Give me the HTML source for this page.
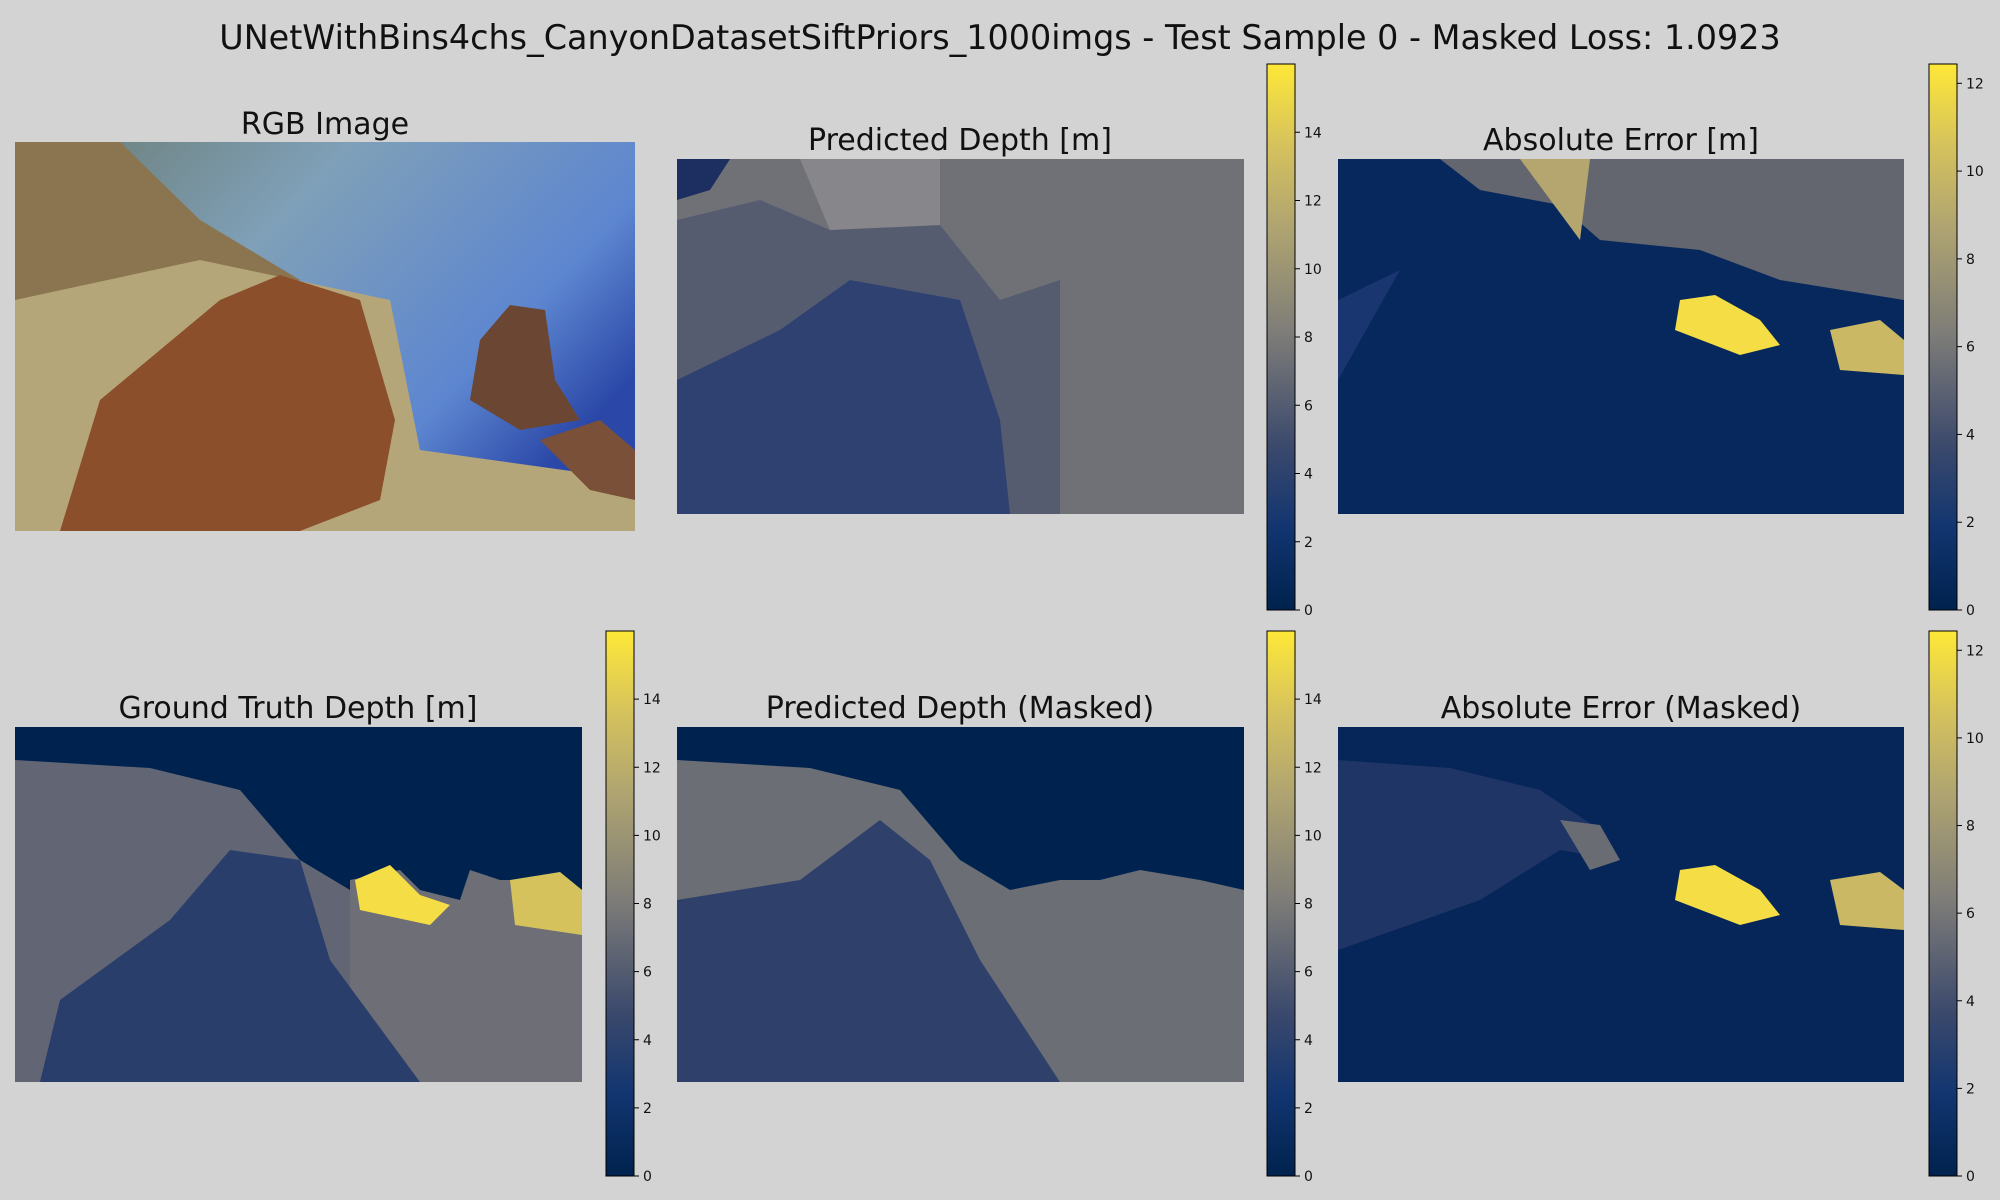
<!DOCTYPE html>
<html><head><meta charset="utf-8">
<style>
body{margin:0;background:#d3d3d3;width:2000px;height:1200px;overflow:hidden;font-family:"DejaVu Sans","Liberation Sans",sans-serif}
svg{display:block}
</style></head><body>
<svg id="fig" width="2000" height="1200" xmlns="http://www.w3.org/2000/svg" font-family="DejaVu Sans, Liberation Sans, sans-serif">
<defs>
<linearGradient id="civ" x1="0" y1="1" x2="0" y2="0">
<stop offset="0" stop-color="#00224e"/><stop offset="0.15" stop-color="#123570"/><stop offset="0.3" stop-color="#3b496c"/>
<stop offset="0.5" stop-color="#7c7b78"/><stop offset="0.7" stop-color="#afa471"/><stop offset="0.85" stop-color="#d5c25d"/><stop offset="1" stop-color="#fee838"/>
</linearGradient>
<linearGradient id="water" x1="0" y1="0" x2="1" y2="0.6">
<stop offset="0" stop-color="#6a7a70"/><stop offset="0.4" stop-color="#7fa0b8"/><stop offset="0.8" stop-color="#5d86d0"/><stop offset="1" stop-color="#2b48a8"/>
</linearGradient>
</defs>
<text x="1000" y="49" text-anchor="middle" font-size="33.4" fill="#111">UNetWithBins4chs_CanyonDatasetSiftPriors_1000imgs - Test Sample 0 - Masked Loss: 1.0923</text>

<g>
<text x="325" y="134" text-anchor="middle" font-size="30" fill="#111">RGB Image</text>
<rect x="15" y="142" width="620" height="389" fill="url(#water)"/>
<polygon points="15,142 120,142 200,220 300,280 260,320 15,430" fill="#8a7550"/>
<polygon points="15,300 200,260 390,300 420,450 635,480 635,531 15,531" fill="#b5a67a"/>
<polygon points="100,400 220,300 280,275 360,300 395,420 380,500 300,531 60,531" fill="#8c4f2c"/>
<polygon points="480,340 510,305 545,310 555,380 580,420 520,430 470,400" fill="#6b4632"/>
<polygon points="540,440 600,420 635,450 635,500 590,490" fill="#7a5038"/>
</g>

<g>
<text x="960" y="150" text-anchor="middle" font-size="30" fill="#111">Predicted Depth [m]</text>
<rect x="677" y="159" width="567" height="355" fill="#6f7176"/>
<polygon points="677,220 760,200 830,230 940,225 1000,300 1060,280 1060,514 677,514" fill="#565c70"/>
<polygon points="677,380 780,330 850,280 960,300 1000,420 1010,514 677,514" fill="#2f4170"/>
<polygon points="677,159 730,159 710,190 677,200" fill="#1c2f60"/>
<polygon points="800,159 940,159 940,225 830,230" fill="#87868a"/>
</g>

<g>
<text x="1621" y="150" text-anchor="middle" font-size="30" fill="#111">Absolute Error [m]</text>
<rect x="1338" y="159" width="566" height="355" fill="#07285c"/>
<polygon points="1440,159 1904,159 1904,300 1780,280 1700,250 1600,240 1560,205 1480,190" fill="#63666f"/>
<polygon points="1520,159 1590,159 1580,240" fill="#b4a66e"/>
<polygon points="1680,300 1715,295 1760,320 1780,345 1740,355 1675,330" fill="#f5dd45"/>
<polygon points="1830,330 1880,320 1904,340 1904,375 1840,370" fill="#cbb865"/>
<polygon points="1338,300 1400,270 1338,380" fill="#1a3670"/>
</g>

<g>
<text x="298" y="718" text-anchor="middle" font-size="30" fill="#111">Ground Truth Depth [m]</text>
<rect x="15" y="727" width="567" height="355" fill="#00224e"/>
<polygon points="15,760 150,768 240,790 300,860 350,890 360,1082 15,1082" fill="#626574"/>
<polygon points="350,880 400,870 420,890 460,900 470,870 500,880 540,880 582,890 582,1082 350,1082" fill="#6e6f76"/>
<polygon points="355,880 390,865 420,895 450,905 430,925 360,910" fill="#f5dd45"/>
<polygon points="510,880 560,872 582,890 582,935 515,925" fill="#d5c25d"/>
<polygon points="60,1000 170,920 230,850 300,860 330,960 420,1082 40,1082" fill="#2a3e6c"/>
</g>

<g>
<text x="960" y="718" text-anchor="middle" font-size="30" fill="#111">Predicted Depth (Masked)</text>
<rect x="677" y="727" width="567" height="355" fill="#00224e"/>
<polygon points="677,760 810,768 900,790 960,860 1010,890 1060,880 1100,880 1140,870 1200,880 1244,890 1244,1082 677,1082" fill="#6c6e75"/>
<polygon points="677,900 800,880 880,820 930,860 980,960 1060,1082 677,1082" fill="#2f416b"/>
</g>

<g>
<text x="1621" y="718" text-anchor="middle" font-size="30" fill="#111">Absolute Error (Masked)</text>
<rect x="1338" y="727" width="566" height="355" fill="#06265a"/>
<polygon points="1338,760 1450,768 1540,790 1600,830 1620,860 1560,850 1480,900 1338,950" fill="#1e3566"/>
<polygon points="1560,820 1600,825 1620,860 1590,870" fill="#6a6c74"/>
<polygon points="1680,870 1715,865 1760,890 1780,915 1740,925 1675,900" fill="#f5dd45"/>
<polygon points="1830,880 1880,872 1904,890 1904,930 1840,925" fill="#cbb865"/>
</g>
<g id="cbars"></g>
</svg>
<script>
const depthTicks=[0,2,4,6,8,10,12,14];
const depthMax=16.0;
const errTicks=[0,2,4,6,8,10,12];
const errMax=12.44;
const cbarDefs=[
 {name:'pred-depth-colorbar',x:1267,y0:64,y1:610,ticks:depthTicks,max:depthMax},
 {name:'abs-error-colorbar',x:1929,y0:64,y1:610,ticks:errTicks,max:errMax},
 {name:'ground-truth-colorbar',x:606,y0:631,y1:1176,ticks:depthTicks,max:depthMax},
 {name:'pred-masked-colorbar',x:1267,y0:631,y1:1176,ticks:depthTicks,max:depthMax},
 {name:'abs-error-masked-colorbar',x:1929,y0:631,y1:1176,ticks:errTicks,max:errMax}
];
const NS='http://www.w3.org/2000/svg';
const g=document.getElementById('cbars');
cbarDefs.forEach(c=>{
  const grp=document.createElementNS(NS,'g');
  
  
  const r=document.createElementNS(NS,'rect');
  r.setAttribute('x',c.x);r.setAttribute('y',c.y0);r.setAttribute('width',28);r.setAttribute('height',c.y1-c.y0);
  r.setAttribute('fill','url(#civ)');r.setAttribute('stroke','#000');r.setAttribute('stroke-width','1');
  
  
  grp.appendChild(r);
  const yScale=v=>c.y1-(v/c.max)*(c.y1-c.y0);
  c.ticks.forEach(t=>{
    const y=yScale(t);
    const l=document.createElementNS(NS,'line');
    l.setAttribute('x1',c.x+28);l.setAttribute('x2',c.x+33);l.setAttribute('y1',y);l.setAttribute('y2',y);l.setAttribute('stroke','#000');
    
    
    grp.appendChild(l);
    const tx=document.createElementNS(NS,'text');
    tx.setAttribute('x',c.x+37);tx.setAttribute('y',y+5);tx.setAttribute('font-size','14');tx.setAttribute('fill','#111');
    tx.textContent=t;
    
    
    grp.appendChild(tx);
  });
  g.appendChild(grp);
});
</script>
</body></html>
